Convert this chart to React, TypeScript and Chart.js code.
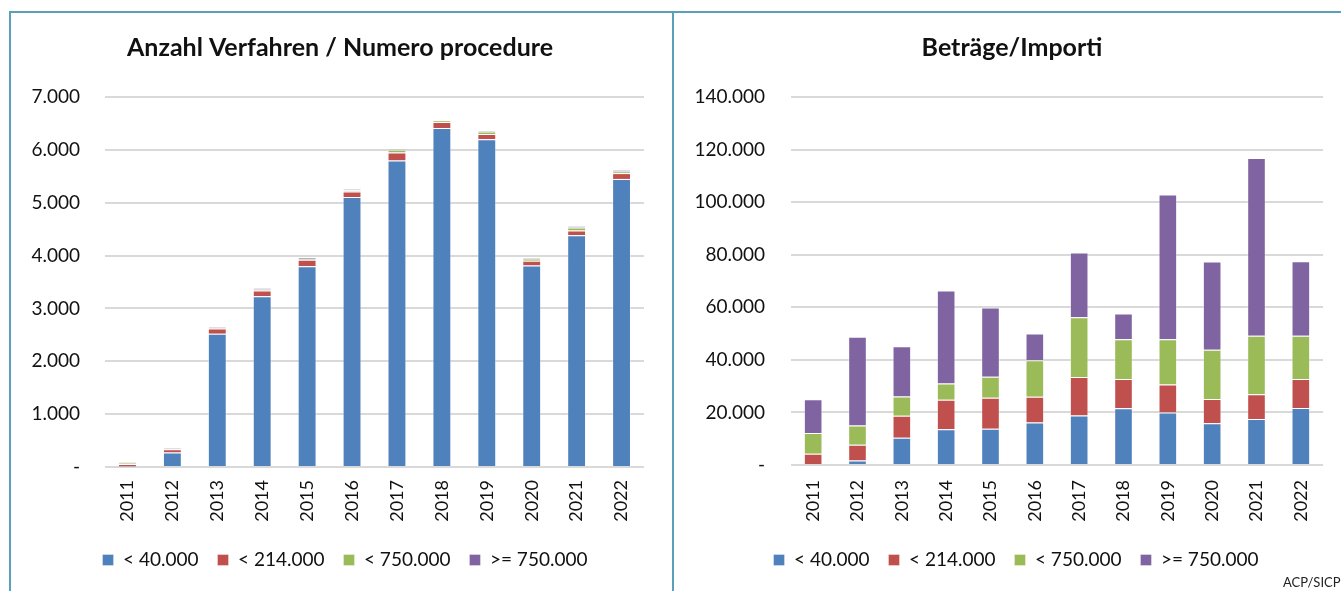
import React, { useEffect, useRef } from 'react';
import { Chart, registerables } from 'chart.js';

Chart.register(...registerables);

const years = ['2011', '2012', '2013', '2014', '2015', '2016', '2017', '2018', '2019', '2020', '2021', '2022'];
const seriesLabels = ['< 40.000', '< 214.000', '< 750.000', '>= 750.000'];
const seriesColors = ['#4F81BD', '#C0504D', '#9BBB59', '#8064A2'];

// Anzahl Verfahren / Numero procedure
const countLt40 = [10, 275, 2520, 3230, 3800, 5110, 5800, 6415, 6200, 3810, 4385, 5450];
const countLt214 = [45, 60, 100, 110, 120, 100, 150, 110, 100, 90, 88, 110];
const countLt750 = [25, 15, 20, 20, 20, 25, 50, 30, 45, 45, 58, 32];
const countGe750 = [10, 15, 15, 20, 30, 25, 10, 5, 20, 15, 25, 25];
const countTickLabels = ['-', '1.000', '2.000', '3.000', '4.000', '5.000', '6.000', '7.000'];

// Beträge / Importi
const amountLt40 = [400, 1750, 10400, 13560, 13800, 16200, 18800, 21560, 20000, 15850, 17500, 21700];
const amountLt214 = [3900, 6000, 8300, 11300, 11800, 9800, 14700, 11200, 10600, 9300, 9400, 11050];
const amountLt750 = [7900, 7250, 7350, 6100, 8000, 13850, 22700, 15100, 17250, 18650, 22250, 16400];
const amountGe750 = [12800, 33800, 19150, 35400, 26300, 10150, 24650, 9800, 55100, 33650, 67650, 28400];
const amountTickLabels = ['-', '20.000', '40.000', '60.000', '80.000', '100.000', '120.000', '140.000'];

const FONT = 'Lato, "Open Sans", sans-serif';
const TEXT = '#111111';
const GRID = '#d9d9d9';
const FRAME = '#5aa0b8';

// shifts the title and legend boxes horizontally after layout
const shiftPlugin = {
  id: 'shiftBoxes',
  afterLayout(chart: any, _args: any, opts: any) {
    const l = chart.legend;
    if (l && opts.legendDx) {
      l.left += opts.legendDx;
      l.right += opts.legendDx;
    }
    const t = chart.titleBlock;
    if (t && opts.titleDx) {
      t.left += opts.titleDx;
      t.right += opts.titleDx;
    }
  },
};

type PanelProps = {
  title: string;
  series: number[][];
  tickLabels: string[];
  step: number;
  width: number;
  height: number;
  left: number;
  top: number;
  yWidth: number;
  rightPad: number;
  xHeight: number;
  yPad: number;
  xPad: number;
  legendDx: number;
  titleDx: number;
};

function ChartPanel(p: PanelProps) {
  const ref = useRef<HTMLCanvasElement | null>(null);
  useEffect(() => {
    if (!ref.current) return;
    const chart = new Chart(ref.current, {
      type: 'bar',
      data: {
        labels: years,
        datasets: p.series.map((d, i) => ({
          label: seriesLabels[i],
          data: d,
          backgroundColor: seriesColors[i],
          borderColor: 'rgba(255,255,255,0.35)',
          borderWidth: 1,
          categoryPercentage: 1,
          barPercentage: 0.42,
        })),
      },
      plugins: [shiftPlugin],
      options: {
        animation: false,
        responsive: false,
        devicePixelRatio: 1,
        layout: { padding: { left: 0, right: p.rightPad, top: 0, bottom: 11.5 } },
        plugins: {
          tooltip: { enabled: false },
          shiftBoxes: { legendDx: p.legendDx, titleDx: p.titleDx },
          title: {
            display: true,
            text: p.title,
            color: TEXT,
            font: { family: FONT, size: 25, weight: 'bold', lineHeight: 1.2 },
            padding: { top: 21, bottom: 34 },
          },
          legend: {
            display: true,
            position: 'bottom',
            labels: {
              color: TEXT,
              font: { family: FONT, size: 19 },
              boxWidth: 11,
              boxHeight: 11,
              padding: 19,
            },
          },
        } as any,
        scales: {
          x: {
            stacked: true,
            grid: { display: false, drawTicks: false },
            border: { display: false },
            ticks: {
              color: TEXT,
              font: { family: FONT, size: 18 },
              minRotation: 90,
              maxRotation: 90,
              padding: p.xPad,
            },
            afterFit: (s: any) => {
              s.height = p.xHeight;
            },
          },
          y: {
            stacked: true,
            min: 0,
            max: p.step * (p.tickLabels.length - 1),
            grid: { color: GRID, lineWidth: 2, drawTicks: false },
            border: { display: false },
            ticks: {
              stepSize: p.step,
              color: TEXT,
              font: { family: FONT, size: 19 },
              padding: p.yPad,
              callback: (v: any) => p.tickLabels[Math.round(Number(v) / p.step)],
            },
            afterFit: (s: any) => {
              s.width = p.yWidth;
            },
          },
        },
      },
    });
    return () => chart.destroy();
  }, []);
  return (
    <canvas
      ref={ref}
      width={p.width}
      height={p.height}
      style={{ position: 'absolute', left: p.left, top: p.top, width: p.width, height: p.height }}
    />
  );
}

export default function App() {
  return (
    <div style={{ position: 'absolute', left: 0, top: 0, width: 1341, height: 591, overflow: 'hidden', background: '#fff' }}>
      <div style={{ position: 'absolute', left: 9, top: 11, width: 1332, height: 2, background: FRAME }} />
      <div style={{ position: 'absolute', left: 9, top: 11, width: 2, height: 580, background: FRAME }} />
      <div style={{ position: 'absolute', left: 672, top: 11, width: 2, height: 580, background: FRAME }} />
      <ChartPanel
        title="Anzahl Verfahren / Numero procedure"
        series={[countLt40, countLt214, countLt750, countGe750]}
        tickLabels={countTickLabels}
        step={1000}
        width={662}
        height={579}
        left={10}
        top={12}
        yWidth={95}
        rightPad={28}
        xHeight={64.5}
        yPad={25}
        xPad={13}
        legendDx={18}
        titleDx={13}
      />
      <ChartPanel
        title="Beträge/Importi"
        series={[amountLt40, amountLt214, amountLt750, amountGe750]}
        tickLabels={amountTickLabels}
        step={20000}
        width={666}
        height={579}
        left={675}
        top={12}
        yWidth={116}
        rightPad={18}
        xHeight={66.5}
        yPad={26}
        xPad={15}
        legendDx={17}
        titleDx={13}
      />
      <div
        style={{
          position: 'absolute',
          left: 1283,
          top: 575,
          fontFamily: FONT,
          fontSize: 13,
          lineHeight: '15px',
          color: '#222',
          whiteSpace: 'nowrap',
        }}
      >
        ACP/SICP
      </div>
    </div>
  );
}
